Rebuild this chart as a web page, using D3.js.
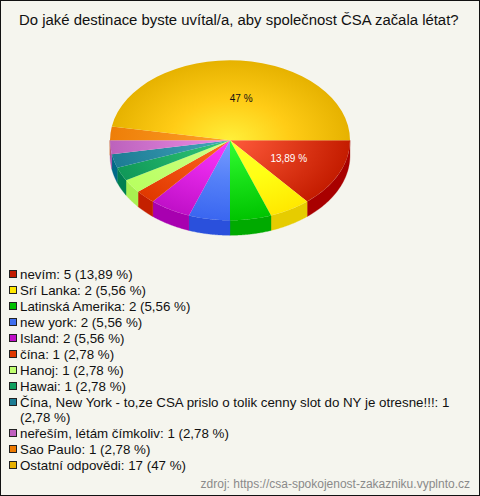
<!DOCTYPE html>
<html><head><meta charset="utf-8">
<script src="https://cdn.jsdelivr.net/npm/d3@7"></script>
<style>html,body{margin:0;padding:0;background:#f5f5ee}svg{display:block}text{font-family:"Liberation Sans",Arial,sans-serif}</style>
</head><body><svg id="c" width="480" height="496"></svg>
<script>
const titleText = "Do jaké destinace byste uvítal/a, aby společnost ČSA začala létat?";
const sourceText = "zdroj: https://csa-spokojenost-zakazniku.vyplnto.cz";
const categories = ["nevím","Srí Lanka","Latinská Amerika","new york","Island","čína","Hanoj","Hawai",
 "Čína, New York - to,ze CSA prislo o tolik cenny slot do NY je otresne!!!","neřeším, létám čímkoliv","Sao Paulo","Ostatní odpovědi"];
const values = [5,2,2,2,2,1,1,1,1,1,1,17];
const percents = ["13,89 %","5,56 %","5,56 %","5,56 %","5,56 %","2,78 %","2,78 %","2,78 %","2,78 %","2,78 %","2,78 %","47 %"];
const innerColors = ["#ff5a3c","#ffff30","#33ff33","#7a9eff","#ff38ff","#ff6a22","#d2ff8c","#35c87c","#48a8ba","#ec8ce6","#ffa428","#fff03a"];
const midColors   = ["#e23c1c","#ffff14","#18e018","#5480f8","#e024e4","#f05010","#c4ff74","#20b068","#3090a8","#d478d2","#f69018","#ffcc16"];
const edgeColors  = ["#c41c00","#ffe800","#00c400","#3a66f0","#c010c8","#e03800","#b8ff60","#109858","#1c7c94","#bc62bc","#ee7e08","#e6b200"];
const wallColors  = ["#a80000","#e6cc00","#00aa00","#2a50dc","#a800b0","#c42000","#a8f050","#008050","#006a88","#a850a8","#d86c00","#d0a000"];
const legendColors= ["#c41c00","#ffe800","#00c000","#4070f0","#c010c8","#e03800","#c0ff70","#10a060","#1c7c94","#c060c0","#ee7a00","#e8b000"];

const svg = d3.select("#c");
const W=480,H=496,cx=230,cy=140.3,rx=120,ry=80,depth=15;
svg.append("rect").attr("x",0.5).attr("y",0.5).attr("width",W-1).attr("height",H-1).attr("fill","#f5f5ee").attr("stroke","#111");
svg.append("text").attr("x",238.8).attr("y",25).attr("text-anchor","middle").attr("font-size",14.9).attr("fill","#111").text(titleText);

const pie = d3.pie().value(d=>d).sort(null).startAngle(Math.PI/2).endAngle(Math.PI/2+2*Math.PI);
const arcs = pie(values);
const defs = svg.append("defs");
arcs.forEach((a,i)=>{
  const g=defs.append("radialGradient").attr("id","g"+i).attr("gradientUnits","userSpaceOnUse")
    .attr("cx",0).attr("cy",0).attr("r",rx);
  g.append("stop").attr("offset",0).attr("stop-color",innerColors[i]);
  g.append("stop").attr("offset",0.5).attr("stop-color",midColors[i]);
  g.append("stop").attr("offset",1).attr("stop-color",edgeColors[i]);
});
const px=t=>cx+rx*Math.sin(t), py=t=>cy-ry*Math.cos(t);
const wall=svg.append("g");
arcs.forEach((a,i)=>{
  const lo=Math.max(a.startAngle,Math.PI/2), hi=Math.min(a.endAngle,Math.PI*1.5);
  if(hi<=lo) return;
  const ts=d3.range(0,41).map(k=>lo+(hi-lo)*k/40);
  const top=ts.map(t=>[px(t),py(t)]);
  const bot=ts.slice().reverse().map(t=>[px(t),py(t)+depth]);
  wall.append("path").attr("d",d3.line()(top.concat(bot))+"Z").attr("fill",wallColors[i]).attr("stroke",wallColors[i]).attr("stroke-width",0.3);
});
const arcGen=d3.arc().innerRadius(0).outerRadius(rx);
const topG=svg.append("g").attr("transform",`translate(${cx},${cy}) scale(1,${ry/rx})`);
topG.selectAll("path").data(arcs).join("path").attr("d",arcGen).attr("fill",(d,i)=>`url(#g${i})`);

[[0,"#fff",0],[11,"#111",5.5]].forEach(([i,col,dx])=>{
  const m=(arcs[i].startAngle+arcs[i].endAngle)/2;
  svg.append("text").attr("x",cx+0.54*rx*Math.sin(m)+dx).attr("y",cy-0.54*ry*Math.cos(m)+(i==0?3.5:5)).attr("text-anchor","middle")
    .attr("font-size",10).attr("fill",col).text(percents[i]);
});

const legend=svg.append("g");
let y=274;
categories.forEach((c,i)=>{
  legend.append("rect").attr("x",9.5).attr("y",y-3.5).attr("width",7).attr("height",7).attr("fill",legendColors[i]).attr("stroke","#222");
  const label=`${c}: ${values[i]} (${percents[i]})`;
  const t=legend.append("text").attr("x",20).attr("y",y+5).attr("font-size",13.33).attr("fill","#111");
  if(t.text(label).node().getComputedTextLength()>445){
    t.text(`${c}: ${values[i]}`);
    legend.append("text").attr("x",20).attr("y",y+20).attr("font-size",13.33).attr("fill","#111").text(`(${percents[i]})`);
    y+=31;
  } else y+=16;
});
svg.append("text").attr("x",470).attr("y",488).attr("text-anchor","end").attr("font-size",12).attr("fill","#8a8a8a").text(sourceText);
</script></body></html>
